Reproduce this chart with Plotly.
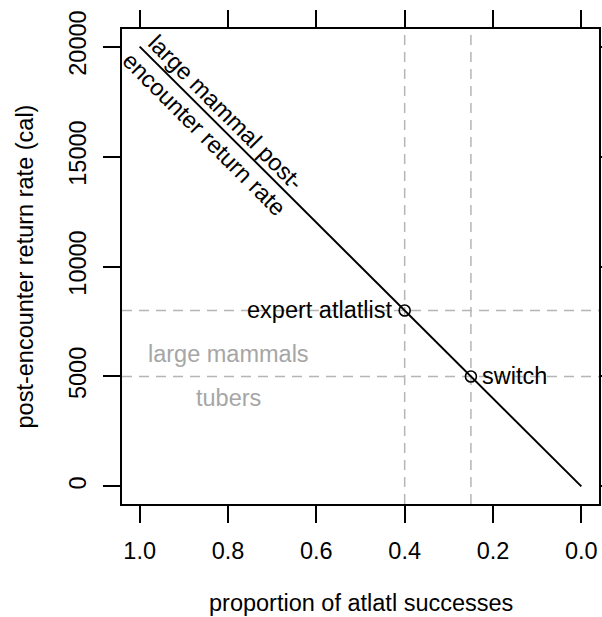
import plotly.graph_objects as go

# Data
line_x = [1.0, 0.0]
line_y = [20000, 0]
point_x = [0.4, 0.25]
point_y = [8000, 5000]
point_labels = ["expert atlatlist", "switch"]
vline_x = [0.4, 0.25]
hline_y = [8000, 5000]
x_ticks = [1.0, 0.8, 0.6, 0.4, 0.2, 0.0]
x_ticklabels = ["1.0", "0.8", "0.6", "0.4", "0.2", "0.0"]
y_ticks = [0, 5000, 10000, 15000, 20000]
y_ticklabels = ["0", "5000", "10000", "15000", "20000"]
region_labels = ["large mammals", "tubers"]
region_x = [0.80, 0.80]
region_y = [6000, 4000]
line_label = "large mammal post-<br>encounter return rate"
line_label_x = 0.83
line_label_y = 16500
x_title = "proportion of atlatl successes"
y_title = "post-encounter return rate (cal)"

FONT = "Liberation Sans, Arial, Helvetica, sans-serif"
FS = 23.5
GRAY_LINE = "#b5b5b5"
GRAY_TEXT = "#a6a6a6"

fig = go.Figure()

for vx in vline_x:
    fig.add_shape(type="line", xref="x", yref="paper", x0=vx, x1=vx, y0=0, y1=1,
                  line=dict(color=GRAY_LINE, width=1.5, dash="10px,7px"), layer="below")
for hy in hline_y:
    fig.add_shape(type="line", xref="paper", yref="y", x0=0, x1=1, y0=hy, y1=hy,
                  line=dict(color=GRAY_LINE, width=1.5, dash="10px,7px"), layer="below")

fig.add_trace(go.Scatter(x=line_x, y=line_y, mode="lines",
                         line=dict(color="black", width=2), showlegend=False))
fig.add_trace(go.Scatter(x=point_x, y=point_y, mode="markers",
                         marker=dict(symbol="circle-open", size=11, color="black",
                                     line=dict(width=1.6, color="black")),
                         showlegend=False))

# point labels
fig.add_annotation(x=point_x[0], y=point_y[0], text=point_labels[0], showarrow=False,
                   xanchor="right", yanchor="middle", xshift=-11,
                   font=dict(family=FONT, size=FS, color="black"))
fig.add_annotation(x=point_x[1], y=point_y[1], text=point_labels[1], showarrow=False,
                   xanchor="left", yanchor="middle", xshift=9,
                   font=dict(family=FONT, size=FS, color="black"))
for t, rx, ry in zip(region_labels, region_x, region_y):
    fig.add_annotation(x=rx, y=ry, text=t, showarrow=False, xanchor="center", yanchor="middle",
                       font=dict(family=FONT, size=FS, color=GRAY_TEXT))
fig.add_annotation(x=line_label_x, y=line_label_y, text=line_label, showarrow=False,
                   textangle=45, xanchor="center", yanchor="middle", align="center",
                   font=dict(family=FONT, size=FS, color="black"))

# axis titles
fig.add_annotation(xref="paper", yref="paper", x=0.5, y=0, yshift=-99, text=x_title,
                   showarrow=False, xanchor="center", yanchor="middle",
                   font=dict(family=FONT, size=FS, color="black"))
fig.add_annotation(xref="paper", yref="paper", x=0, y=0.5, xshift=-98, text=y_title,
                   showarrow=False, xanchor="center", yanchor="middle", textangle=-90,
                   font=dict(family=FONT, size=FS, color="black"))

axis_common = dict(showgrid=False, zeroline=False, showline=True, linecolor="black", linewidth=1.5,
                   mirror="ticks", ticks="outside", ticklen=17, tickwidth=1.5, tickcolor="black",
                   automargin=False,
                   tickfont=dict(family=FONT, size=FS, color="black"))

fig.update_xaxes(range=[1.04, -0.04], tickvals=x_ticks, ticktext=x_ticklabels,
                 ticklabelstandoff=8, ticklabeloverflow="allow", **axis_common)
fig.update_yaxes(range=[-800, 20800], tickvals=y_ticks, ticktext=y_ticklabels, tickangle=-90,
                 ticklabelstandoff=8, **axis_common)

fig.update_layout(width=602, height=617, plot_bgcolor="white", paper_bgcolor="white",
                  margin=dict(l=122, r=3, t=29, b=113), showlegend=False)

# remove the page's default body margin and scrollbars so the figure fills the window exactly
fig.write_html("out.html", config={"displayModeBar": False},
               post_script="document.body.style.margin='0';document.body.style.overflow='hidden';")
